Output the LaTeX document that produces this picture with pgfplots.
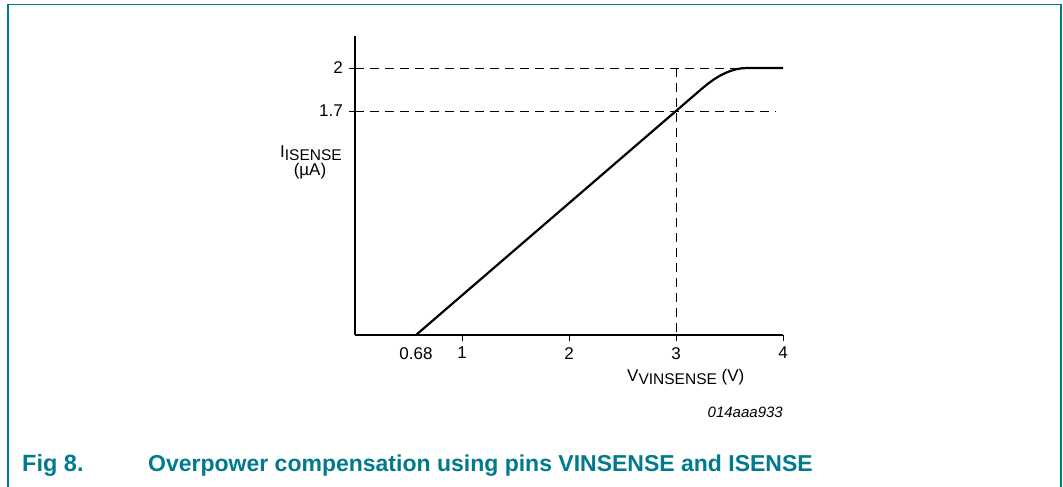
\documentclass[border=0pt]{standalone}
\usepackage{fontspec}
\setmainfont{Liberation Sans}
\usepackage{pgfplots}
\pgfplotsset{compat=1.18}
\definecolor{nxpteal}{RGB}{0,122,140}
\begin{document}
\begin{tikzpicture}
\begin{scope}[x=1pt,y=1pt]
\useasboundingbox (0,0) rectangle (1063,487);
\draw[nxpteal, line width=1.6pt] (8,0) -- (8,482.5) -- (1061,482.5) -- (1061,0);
\node[anchor=base west, inner sep=0pt, font=\fontsize{17}{20}\selectfont] at (280,329) {I\raisebox{-3pt}{\fontsize{15.5}{18}\selectfont ISENSE}};
\node[anchor=base, inner sep=0pt, font=\fontsize{17}{20}\selectfont] at (310,311) {(µA)};
\node[anchor=base west, inner sep=0pt, font=\fontsize{17}{20}\selectfont] at (627,105) {V\raisebox{-3pt}{\fontsize{15.5}{18}\selectfont VINSENSE} (V)};
\node[anchor=base east, inner sep=0pt, font=\fontsize{15}{18}\selectfont\itshape] at (783,69) {014aaa933};
\node[anchor=base west, inner sep=0pt, font=\fontsize{23.5}{27}\selectfont\bfseries, text=nxpteal] at (22,15) {Fig 8.};
\node[anchor=base west, inner sep=0pt, font=\fontsize{23}{27}\selectfont\bfseries, text=nxpteal] at (148,15) {Overpower compensation using pins VINSENSE and ISENSE};
\end{scope}
\begin{axis}[
  at={(355pt,152pt)}, anchor=south west,
  scale only axis, width=428pt, height=299pt,
  xmin=0, xmax=4, ymin=0.137, ymax=2.2236,
  clip=false,
  axis lines=left,
  axis line style={-, line width=1.3pt, black},
  tick align=outside,
  major tick length=6pt,
  tick style={line width=1pt, black},
  xtick={1,2,3,4}, xticklabels={1,2,3,4},
  extra x ticks={0.57}, extra x tick labels={0.68},
  extra x tick style={tick style={draw=none}},
  ytick={1.7,2}, yticklabels={1.7,2},
  /pgf/number format/assume math mode=true,
  xticklabel style={font=\fontsize{17}{20}\selectfont, inner sep=0pt, yshift=-6pt},
  yticklabel style={font=\fontsize{17}{20}\selectfont, inner sep=0pt, xshift=-6pt},
]
\addplot[black, line width=1pt, dash pattern=on 9pt off 6pt] coordinates {(0,2) (3.66,2)};
\addplot[black, line width=1pt, dash pattern=on 9pt off 6pt] coordinates {(0,1.7) (3.935,1.7)};
\addplot[black, line width=1pt, dash pattern=on 9pt off 6pt] coordinates {(3,2) (3,0.137)};
\addplot[black, line width=2.2pt, line join=round] coordinates {
(0.57,0.137) (3.25,1.861) (3.3038,1.8936) (3.3568,1.9218) (3.4091,1.9457) (3.4608,1.9653)
(3.5116,1.9805) (3.5618,1.9913) (3.6113,1.9978) (3.66,2) (4,2)};
\end{axis}
\end{tikzpicture}
\end{document}
